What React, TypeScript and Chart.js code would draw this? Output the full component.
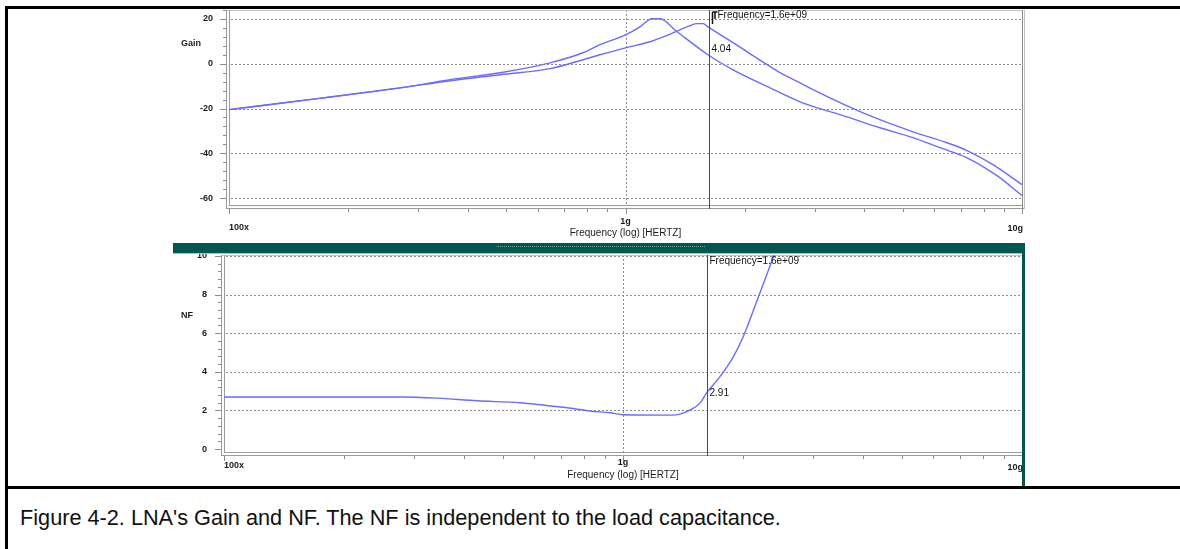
import React, { useEffect, useRef } from 'react';
import { Chart, registerables } from 'chart.js';
Chart.register(...registerables);

// ---------- data ----------
const FREQ_GAIN_A = [1e8, 1.67e8, 2.7e8, 3.61e8, 4.83e8, 6.45e8, 7.81e8, 8.62e8, 1e9, 1.088e9, 1.166e9, 1.222e9, 1.349e9, 1.614e9, 1.867e9, 2.275e9, 2.755e9, 3.62e9, 4.38e9, 5.31e9, 6.21e9, 7.27e9, 8.65e9, 1e10];
const GAIN_A = [-20.5, -15.6, -10.8, -7.1, -4.0, 0.4, 4.9, 8.5, 12.9, 16.5, 20.1, 20.1, 14.3, 4.0, -2.7, -10.1, -17.0, -23.7, -28.6, -33.0, -37.5, -42.0, -50.0, -58.9];

const FREQ_GAIN_B = [1e8, 1.67e8, 2.7e8, 3.61e8, 4.83e8, 6.45e8, 7.81e8, 8.62e8, 1e9, 1.153e9, 1.318e9, 1.455e9, 1.514e9, 1.569e9, 1.614e9, 1.867e9, 2.275e9, 2.453e9, 2.755e9, 2.971e9, 3.62e9, 4.38e9, 5.31e9, 6.47e9, 7.27e9, 8.45e9, 1e10];
const GAIN_B = [-20.5, -15.6, -10.8, -7.6, -4.9, -2.2, 1.8, 4.0, 7.1, 9.8, 13.8, 17.0, 17.9, 17.9, 16.5, 9.4, -0.4, -4.0, -8.5, -11.6, -18.8, -25.0, -30.4, -35.3, -38.8, -45.1, -54.0];

const FREQ_NF = [1e8, 2.76e8, 3.42e8, 4.31e8, 5.52e8, 6.3e8, 7.24e8, 8.27e8, 9.28e8, 1e9, 1.33e9, 1.39e9, 1.47e9, 1.56e9, 1.62e9, 1.75e9, 1.89e9, 2.0e9, 2.17e9, 2.3e9, 2.4e9];
const NF = [2.7, 2.7, 2.64, 2.5, 2.4, 2.28, 2.14, 1.97, 1.88, 1.78, 1.76, 1.81, 2.02, 2.38, 2.91, 3.75, 4.78, 5.8, 7.72, 9.1, 10.15];

const X_TICKS = [1e8, 1e9, 1e10];
const X_TICK_LABELS = ['100x', '1g', '10g'];
const X_TITLE = 'Frequency (log) [HERTZ]';
const GAIN_TICKS = [20, 0, -20, -40, -60];
const NF_TICKS = [10, 8, 6, 4, 2, 0];
const GAIN_TITLE = 'Gain';
const NF_TITLE = 'NF';
const CURSOR_FREQ = 1.62e9;
const CURSOR_TEXT = 'Frequency=1.6e+09';
const CURSOR_GAIN = 4.04;
const CURSOR_NF = 2.91;
const CAPTION = "Figure 4-2. LNA's Gain and NF. The NF is independent to the load capacitance.";

// ---------- styling ----------
const FONT = '"Liberation Sans", Arial, sans-serif';
const CURVE = '#6b6bff';
const TEAL = '#02574f';

function pts(xs: number[], ys: number[]) {
  return xs.map((x, i) => ({ x, y: ys[i] }));
}

function hl(ctx: CanvasRenderingContext2D, x1: number, x2: number, y: number) {
  ctx.beginPath(); ctx.moveTo(x1, y); ctx.lineTo(x2, y); ctx.stroke();
}
function vl(ctx: CanvasRenderingContext2D, x: number, y1: number, y2: number) {
  ctx.beginPath(); ctx.moveTo(x, y1); ctx.lineTo(x, y2); ctx.stroke();
}

type Decor = {
  id: string;
  yTitle: string;
  yTitleX: number;
  yTitleY: number;
  minorStep: number;
  cursorValue: number;
  valueDy: number;
  cursorTextDy: number;
  offs: [number, number, number, number]; // 100x, 1g, 10g, title
  topChart: boolean;
};

function decorPlugin(d: Decor) {
  return {
    id: d.id,
    beforeDatasetsDraw(chart: any) {
      const { ctx, chartArea: a } = chart;
      const x = chart.scales.x, y = chart.scales.y;
      const L = a.left, R = a.right, T = a.top, B = a.bottom;
      ctx.save();
      ctx.lineWidth = 1;
      // dotted grid
      ctx.strokeStyle = '#8c8c8c';
      ctx.setLineDash([2, 2]);
      for (const t of y.ticks) {
        const py = Math.round(y.getPixelForValue(t.value)) + 0.5;
        if (B - py > 3) hl(ctx, L + 2, R, py);
      }
      const gx = Math.round(x.getPixelForValue(X_TICKS[1])) + 0.5;
      vl(ctx, gx, T, B);
      ctx.setLineDash([]);

      // frame
      ctx.strokeStyle = '#c4c4c4';
      hl(ctx, L - 3, R, T + 0.5);
      ctx.strokeStyle = '#9a9a9a';
      vl(ctx, L - 2.5, T, B + 3);
      vl(ctx, L + 0.5, T, B);
      hl(ctx, L, R, B + 0.5);
      hl(ctx, L - 3, R + 2, B + 3.5);
      if (d.topChart) {
        ctx.strokeStyle = '#8a8a8a';
        vl(ctx, R + 0.5, T, B + 4);
        ctx.strokeStyle = '#c0c0c0';
        vl(ctx, R + 2.5, T, B + 4);
      }

      // y minor ticks
      ctx.strokeStyle = '#8a8a8a';
      const s = d.minorStep;
      for (let k = Math.ceil(y.min / s); k <= Math.floor(y.max / s); k++) {
        const v = k * s;
        const major = y.ticks.some((t: any) => Math.abs(t.value - v) < 1e-6);
        const py = Math.round(y.getPixelForValue(v)) + 0.5;
        hl(ctx, L - (major ? 9 : 6), L - 3, py);
      }
      // x minor ticks
      for (let dec = X_TICKS[0]; dec < X_TICKS[2] * 1.01; dec *= 10) {
        for (let m = 1; m <= 9; m++) {
          const v = m * dec;
          if (v > X_TICKS[2] * 1.001) break;
          const px = Math.round(x.getPixelForValue(v)) + 0.5;
          vl(ctx, px, B + 4, B + (m === 1 ? 9 : 7));
        }
      }

      // texts
      ctx.fillStyle = '#1c1c1c';
      ctx.textBaseline = 'middle';
      ctx.font = `bold 9px ${FONT}`;
      ctx.textAlign = 'center';
      ctx.fillText(d.yTitle, d.yTitleX, d.yTitleY);
      ctx.textAlign = 'left';
      ctx.fillText(X_TICK_LABELS[0], x.getPixelForValue(X_TICKS[0]), B + d.offs[0]);
      ctx.textAlign = 'center';
      ctx.fillText(X_TICK_LABELS[1], x.getPixelForValue(X_TICKS[1]), B + d.offs[1]);
      ctx.textAlign = 'right';
      ctx.fillText(X_TICK_LABELS[2], x.getPixelForValue(X_TICKS[2]) + 1, B + d.offs[2]);
      ctx.textAlign = 'center';
      ctx.font = `10px ${FONT}`;
      ctx.fillText(X_TITLE, x.getPixelForValue(X_TICKS[1]), B + d.offs[3]);
      ctx.restore();
    },
    afterDatasetsDraw(chart: any) {
      const { ctx, chartArea: a } = chart;
      const x = chart.scales.x, y = chart.scales.y;
      const cx = Math.round(x.getPixelForValue(CURSOR_FREQ)) + 0.5;
      ctx.save();
      ctx.strokeStyle = '#4a4a4a';
      ctx.lineWidth = 1;
      vl(ctx, cx, a.top, a.bottom + 4);
      if (d.topChart) {
        ctx.strokeStyle = '#111';
        ctx.lineWidth = 1.5;
        vl(ctx, cx + 3, a.top + 2, a.top + 14);
        vl(ctx, cx + 5.5, a.top + 2, a.top + 9);
        hl(ctx, cx + 3, cx + 8, a.top + 2);
      }
      ctx.fillStyle = '#111';
      ctx.textBaseline = 'middle';
      ctx.textAlign = 'left';
      ctx.font = `10px ${FONT}`;
      ctx.fillText(CURSOR_TEXT, cx + (d.topChart ? 8 : 2), a.top + d.cursorTextDy);
      ctx.fillText(d.cursorValue.toFixed(2), cx + 2, y.getPixelForValue(d.cursorValue) + d.valueDy);
      ctx.restore();
    },
  };
}

function baseOptions(yMin: number, yMax: number, yTicks: number[], yWidth: number, padTop: number, labelPad: number) {
  return {
    responsive: false,
    maintainAspectRatio: false,
    animation: false,
    devicePixelRatio: 1,
    layout: { padding: { left: 0, right: 158, top: padTop, bottom: 0 } },
    plugins: { legend: { display: false }, tooltip: { enabled: false }, title: { display: false } },
    elements: {
      point: { radius: 0 },
      line: { borderWidth: 1.4, cubicInterpolationMode: 'monotone' },
    },
    scales: {
      x: {
        type: 'logarithmic',
        min: X_TICKS[0],
        max: X_TICKS[2],
        grid: { display: false, drawTicks: false },
        border: { display: false },
        ticks: { display: false },
        afterFit: (s: any) => { s.height = 35; s.paddingLeft = 0; s.paddingRight = 0; },
      },
      y: {
        type: 'linear',
        min: yMin,
        max: yMax,
        afterBuildTicks: (s: any) => { s.ticks = yTicks.map((v) => ({ value: v })); },
        grid: { display: false, drawTicks: false },
        border: { display: false },
        ticks: {
          color: '#1c1c1c',
          padding: labelPad,
          font: { family: FONT, size: 9, weight: 'bold' },
          callback: (v: any) => String(v),
        },
        afterFit: (s: any) => { s.width = yWidth; s.paddingTop = 0; s.paddingBottom = 0; },
      },
    },
  };
}

export default function App() {
  const topRef = useRef<HTMLCanvasElement>(null);
  const botRef = useRef<HTMLCanvasElement>(null);

  useEffect(() => {
    const c1 = new Chart(topRef.current as HTMLCanvasElement, {
      type: 'line',
      data: {
        datasets: [
          { data: pts(FREQ_GAIN_A, GAIN_A), borderColor: CURVE, fill: false },
          { data: pts(FREQ_GAIN_B, GAIN_B), borderColor: CURVE, fill: false },
        ],
      },
      options: baseOptions(-63.1, 24, GAIN_TICKS, 229, 10, 16) as any,
      plugins: [decorPlugin({
        id: 'decorTop', yTitle: GAIN_TITLE, yTitleX: 191, yTitleY: 44, minorStep: 4,
        cursorValue: CURSOR_GAIN, valueDy: -5, cursorTextDy: 5,
        offs: [23, 17, 24, 28], topChart: true,
      })],
    } as any);
    const c2 = new Chart(botRef.current as HTMLCanvasElement, {
      type: 'line',
      data: {
        datasets: [{ data: pts(FREQ_NF, NF), borderColor: CURVE, fill: false }],
      },
      options: baseOptions(-0.15, 10.05, NF_TICKS, 224, 13, 17) as any,
      plugins: [decorPlugin({
        id: 'decorBot', yTitle: NF_TITLE, yTitleX: 187, yTitleY: 316 - 242, minorStep: 0.4,
        cursorValue: CURSOR_NF, valueDy: 0, cursorTextDy: 6,
        offs: [14, 11, 16, 23], topChart: false,
      })],
    } as any);
    return () => { c1.destroy(); c2.destroy(); };
  }, []);

  return (
    <div style={{ position: 'absolute', left: 0, top: 0, width: 1180, height: 549, background: '#fff', overflow: 'hidden', fontFamily: FONT }}>
      <canvas ref={topRef} width={1180} height={240} style={{ position: 'absolute', left: 0, top: 0 }} />
      <canvas ref={botRef} width={1180} height={245} style={{ position: 'absolute', left: 0, top: 242 }} />
      {/* teal separator */}
      <div style={{ position: 'absolute', left: 173, top: 243, width: 852, height: 10, background: TEAL }} />
      <div style={{ position: 'absolute', left: 497, top: 246, width: 208, height: 0, borderTop: '1px dotted #6f9f9a' }} />
      <div style={{ position: 'absolute', left: 173, top: 253, width: 850, height: 1, background: '#b8b8b8' }} />
      <div style={{ position: 'absolute', left: 1022, top: 253, width: 3, height: 234, background: TEAL }} />
      {/* black frame */}
      <div style={{ position: 'absolute', left: 5, top: 6, width: 1175, height: 3, background: '#000' }} />
      <div style={{ position: 'absolute', left: 5, top: 6, width: 3, height: 543, background: '#000' }} />
      <div style={{ position: 'absolute', left: 5, top: 486, width: 1175, height: 3, background: '#000' }} />
      {/* caption */}
      <div style={{ position: 'absolute', left: 20, top: 505, fontSize: 21.7, whiteSpace: 'nowrap', color: '#111' }}>{CAPTION}</div>
    </div>
  );
}
